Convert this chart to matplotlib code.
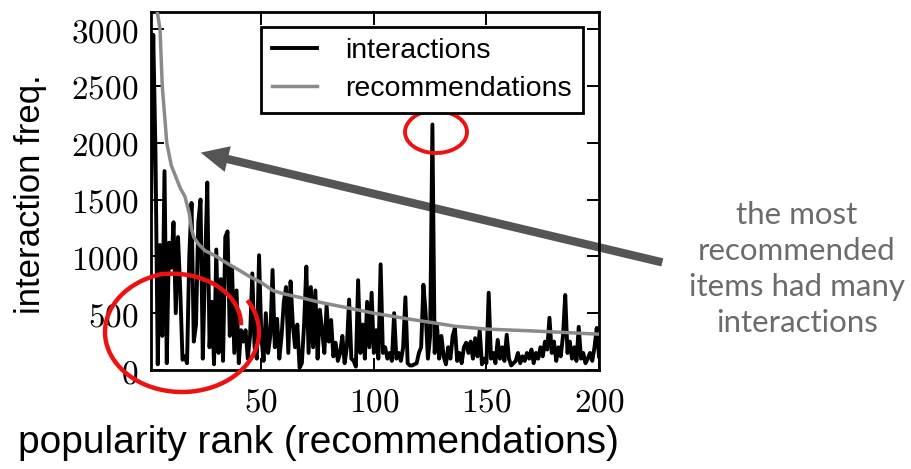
import numpy as np
import matplotlib
matplotlib.use('Agg')
import matplotlib.pyplot as plt
import matplotlib.transforms as mtransforms
from matplotlib.patches import FancyArrowPatch

plt.rcParams['mathtext.fontset'] = 'cm'

W, H = 912, 469

# interaction counts per popularity rank (1..200)
interactions = [
    1400, 2950, 1900, 50, 1100, 300, 1750, 60, 1120, 900,
    1300, 500, 1170, 700, 90, 120, 60, 1000, 1470, 250,
    400, 1300, 1500, 100, 900, 1650, 200, 600, 50, 1060,
    150, 800, 80, 1170, 1220, 300, 900, 150, 700, 60,
    350, 250, 350, 100, 300, 850, 200, 100, 1010, 300,
    80, 500, 150, 300, 880, 200, 450, 100, 300, 600,
    730, 150, 780, 400, 200, 400, 20, 60, 400, 910,
    150, 730, 200, 700, 100, 530, 350, 150, 570, 250,
    440, 120, 240, 80, 150, 300, 60, 200, 620, 100,
    80, 30, 790, 150, 400, 100, 600, 200, 680, 150,
    350, 100, 930, 150, 200, 100, 150, 80, 500, 100,
    150, 80, 200, 640, 60, 40, 40, 50, 60, 150,
    200, 750, 500, 100, 300, 2160, 150, 400, 100, 300,
    120, 50, 200, 100, 300, 370, 80, 150, 60, 200,
    240, 150, 250, 100, 280, 120, 350, 50, 100, 60,
    680, 100, 150, 60, 265, 100, 200, 80, 310, 100,
    40, 60, 80, 150, 60, 120, 80, 150, 100, 180,
    60, 150, 100, 200, 120, 250, 180, 460, 150, 250,
    80, 200, 120, 300, 660, 150, 250, 100, 200, 80,
    380, 100, 150, 60, 100, 150, 80, 200, 370, 120,
]
ranks = np.arange(1, len(interactions) + 1)

# recommendation counts, sampled along the rank axis
rec_ranks = [1, 3, 5, 6, 7, 8, 10, 12, 14, 16, 18, 19, 20, 22, 25, 30, 33,
             40, 45, 50, 55, 60, 68, 75, 85, 100, 115, 125, 136, 150, 169,
             185, 200]
rec_values = [3400, 3250, 3000, 2500, 2250, 2000, 1800, 1700, 1600, 1530,
              1380, 1240, 1170, 1110, 1050, 1000, 960, 880, 820, 770, 700,
              670, 635, 600, 560, 500, 450, 420, 385, 360, 345, 330, 315]

xticks = [50, 100, 150, 200]
yticks = [0, 500, 1000, 1500, 2000, 2500, 3000]

fig = plt.figure(figsize=(W / 100, H / 100), dpi=100)
ax = fig.add_axes([151 / W, 1 - 370 / H, 448 / W, 358 / H])

ax.plot(ranks, interactions, color='black', lw=2.8, label='interactions', zorder=3)
ax.plot(rec_ranks, rec_values, color='#8a8a8a', lw=2.5, label='recommendations', zorder=3)

ax.set_xlim(1, 200)
ax.set_ylim(0, 3150)
ax.set_xticks(xticks)
ax.set_xticklabels([f'${t}$' for t in xticks])
ax.set_yticks(yticks)
ax.set_yticklabels([f'${t}$' for t in yticks])
ax.tick_params(direction='in', length=9, width=1.4, top=True, right=True,
               labelsize=24, colors='black')
ax.tick_params(axis='x', pad=11)
ax.tick_params(axis='y', pad=9)
for sp in ax.spines.values():
    sp.set_linewidth(2)

ax.set_xlabel('popularity rank (recommendations)', fontsize=28,
              family='Liberation Sans', va='center')
ax.xaxis.set_label_coords((318 - 151) / 448, (370 - 443) / 358)
ax.set_ylabel('interaction freq.', fontsize=25, family='Liberation Sans', va='center')
ax.yaxis.set_label_coords((30 - 151) / 448, (370 - 194) / 358)

leg = ax.legend(loc='upper right', bbox_to_anchor=((583 - 151) / 448, (370 - 27) / 358),
                prop={'family': 'Liberation Sans', 'size': 20.5},
                fancybox=False, framealpha=1, edgecolor='black',
                handlelength=1.6, handletextpad=1.0, borderpad=0.38,
                labelspacing=0.42, borderaxespad=0)
leg.get_frame().set_linewidth(2)

# pixel coordinates, origin top-left
pix = mtransforms.Affine2D().scale(1 / 100, -1 / 100).translate(0, H / 100) + fig.dpi_scale_trans

# arrow pointing at the head of the recommendation curve
arrow = FancyArrowPatch((665, 263), (198, 152), transform=pix,
                        arrowstyle='simple,head_width=19,head_length=20,tail_width=6',
                        mutation_scale=1, color='#555555', lw=0, zorder=2.5)
ax.add_artist(arrow)
arrow.set_clip_on(False)

fig.text(797 / W, 1 - 269 / H, 'the most\nrecommended\nitems had many\ninteractions',
         ha='center', va='center', fontsize=22.5, family='Lato', color='#6b6b6b',
         linespacing=1.36)

# hand-drawn red loops
def loop(cx, cy, rx, ry, a0, sweep, r0, r1):
    t = np.linspace(0, 1, 200)
    ang = np.radians(a0 - sweep * t)
    r = r0 + (r1 - r0) * np.clip((t - 0.75) / 0.25, 0, 1)
    return cx + rx * r * np.cos(ang), cy - ry * r * np.sin(ang)

lx, ly = loop(182, 332, 77, 60, 30, 379, 1.0, 0.78)
ax.plot(lx, ly, color='#ee1111', lw=3.2, transform=pix, clip_on=False, zorder=5)
sx, sy = loop(436, 132, 31, 21, 80, 385, 1.0, 1.08)
ax.plot(sx, sy, color='#ee1111', lw=2.8, transform=pix, clip_on=False, zorder=5)

fig.savefig('out.png', dpi=100)
